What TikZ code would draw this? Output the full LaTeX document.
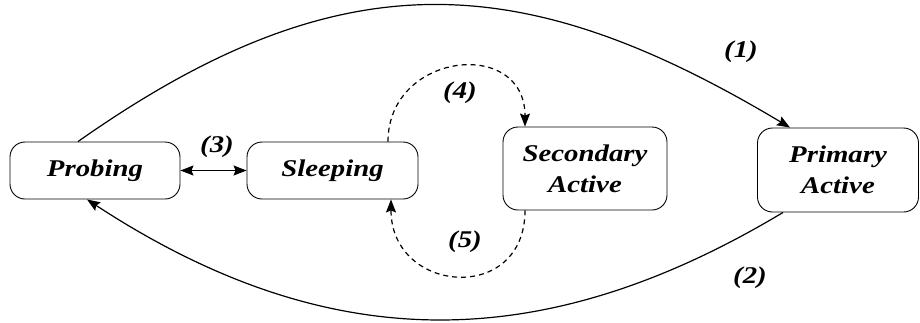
\documentclass[tikz,border=0pt]{standalone}
\usepackage{fontspec}
\setmainfont{Liberation Serif}
\usetikzlibrary{arrows.meta}
\newcommand\sx[1]{\scalebox{1.2}[1]{#1}}
\begin{document}
\begin{tikzpicture}[x=1pt,y=-1pt,
  state/.style={draw, rounded corners=15pt, line width=0.9pt, align=center, inner sep=0pt,
    font=\fontsize{24}{31}\selectfont\bfseries\itshape},
  lbl/.style={font=\fontsize{24}{30}\selectfont\bfseries\itshape, inner sep=0pt},
  conn/.style={line width=1.2pt, -{Stealth[length=13pt,width=10pt,inset=2pt]}},
  dconn/.style={conn, dash pattern=on 5pt off 4pt}
]
\useasboundingbox (0,0) rectangle (920,322);
\node[state, minimum width=170pt, minimum height=57pt] (probe) at (95,170.5) {\sx{Probing}};
\node[state, minimum width=171pt, minimum height=57pt] (sleep) at (332.5,170.5) {\sx{Sleeping}};
\node[state, minimum width=164pt, minimum height=83pt] (sec) at (585,168.5) {\sx{Secondary}\\\sx{Active}};
\node[state, minimum width=161pt, minimum height=84pt] (prim) at (838,170) {\sx{Primary}\\\sx{Active}};

\coordinate (p1s) at ([xshift=-17pt]probe.north);
\coordinate (p1e) at ([xshift=-48pt]prim.north);
\draw[conn] (p1s) .. controls (343,-45) and (525,-31) .. (p1e);

\coordinate (p2s) at ([xshift=-55pt]prim.south);
\coordinate (p2e) at ([xshift=-8pt]probe.south);
\draw[conn] (p2s) .. controls (542,357) and (328,357) .. (p2e);

\draw[line width=1.2pt, {Stealth[length=13pt,width=10pt,inset=2pt]}-{Stealth[length=13pt,width=10pt,inset=2pt]}] (probe.east) -- (sleep.west);

\coordinate (p4s) at ([xshift=55.5pt]sleep.north);
\coordinate (p4e) at ([xshift=-60pt]sec.north);
\draw[dconn] (p4s) .. controls (388,52) and (525,37) .. (p4e);

\coordinate (p5s) at ([xshift=-60pt]sec.south);
\coordinate (p5e) at ([xshift=58.5pt]sleep.south);
\draw[dconn] (p5s) .. controls (525,305) and (391,294) .. (p5e);

\node[lbl] (l1) at (741,52) {\sx{(1)}};
\node[lbl] (l2) at (750,278) {\sx{(2)}};
\node[lbl] (l3) at (217,147) {\sx{(3)}};
\node[lbl] (l4) at (460,93) {\sx{(4)}};
\node[lbl] (l5) at (465,242) {\sx{(5)}};
\end{tikzpicture}
\end{document}
